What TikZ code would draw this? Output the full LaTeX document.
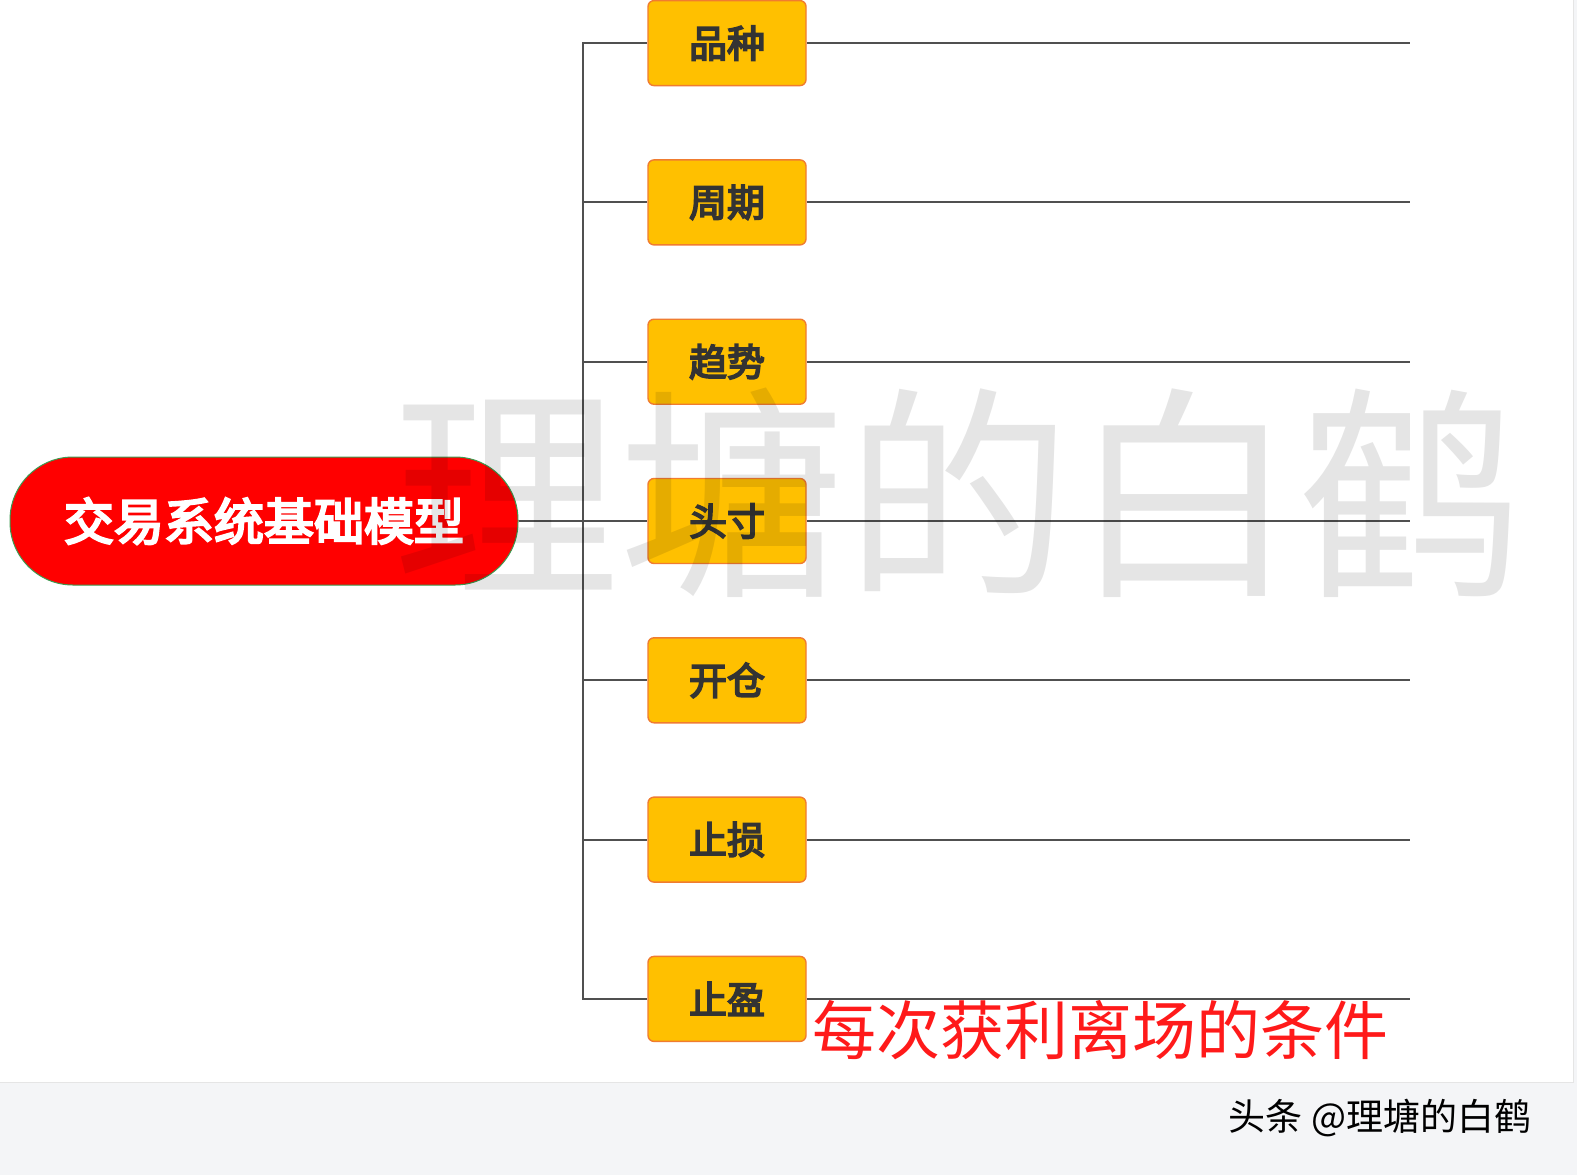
\documentclass[tikz,border=0pt]{standalone}
\usepackage{fontspec}
\usepackage{tikz}
\usetikzlibrary{positioning}
\usetikzlibrary{shapes,arrows}
\newfontfamily\cjk{Noto Sans CJK SC}
\newfontfamily\cjkbold[FakeBold=4.5]{Noto Sans CJK SC}
\definecolor{boxfill}{HTML}{FFC000}
\definecolor{boxline}{HTML}{F07C30}
\definecolor{rootline}{HTML}{3C9A50}
\definecolor{branchline}{HTML}{505050}
\definecolor{pagegray}{HTML}{F4F5F7}
\definecolor{notered}{HTML}{FF1A1A}

\begin{document}
\begin{tikzpicture}[x=1pt,y=-1pt,
      grow'=right,
      branch/.style={draw=branchline,line width=2pt},
      rootnode/.style={fill=red,draw=rootline,line width=1pt,rounded corners=63pt,
        minimum width=508pt,minimum height=128pt,text=white,
        font=\cjkbold\fontsize{50}{50}\selectfont},
      itemnode/.style={fill=boxfill,draw=boxline,line width=1.4pt,rounded corners=6pt,
        minimum width=158pt,minimum height=85pt,text=black!80,
        font=\cjkbold\fontsize{38}{38}\selectfont},
      level 1/.style={sibling distance=159.3pt,level distance=463pt},
      edge from parent/.style={branch},
      edge from parent path={(\tikzparentnode.east) -- ++(64pt,0pt) |- (\tikzchildnode.west)}
    ]
    \useasboundingbox (0,0) rectangle (1577,1175);
    \fill[pagegray] (0,0) rectangle (1577,1175);
    \fill[white] (0,0) rectangle (1573,1082);
    \draw[black!10,line width=1pt] (0,1082) -- (1573,1082) -- (1573,0);

    \node[rootnode] (root) at (264,521) {交易系统基础模型}
        child {
          node[itemnode] (pz) {品种}
        }
        child {
          node[itemnode] (zq) {周期}
        }
        child {
          node[itemnode] (qs) {趋势}
        }
        child {
          node[itemnode] (tc) {头寸}
        }
        child {
          node[itemnode] (kc) {开仓}
        }
        child {
          node[itemnode] (zs) {止损}
        }
        child {
          node[itemnode] (zy) {止盈}
        }
      ;

    \coordinate (tail) at (1410,521);
    \foreach \n in {pz,zq,qs,tc,kc,zs,zy}
      \draw[branch] (\n.east) -- (\n.east -| tail);

    \node[anchor=west,inner sep=0pt,text=notered,font=\cjk\fontsize{64}{64}\selectfont]
      (note) at (812,1030) {每次获利离场的条件};

    \node[text=black,text opacity=0.1,inner sep=0pt,font=\cjk\fontsize{226}{226}\selectfont]
      (mark) at (958,493) {理塘的白鹤};

    \node[inner sep=0pt,font=\cjk\fontsize{37}{37}\selectfont]
      (brand) at (1380,1118) {头条 @理塘的白鹤};
\end{tikzpicture}
\end{document}
